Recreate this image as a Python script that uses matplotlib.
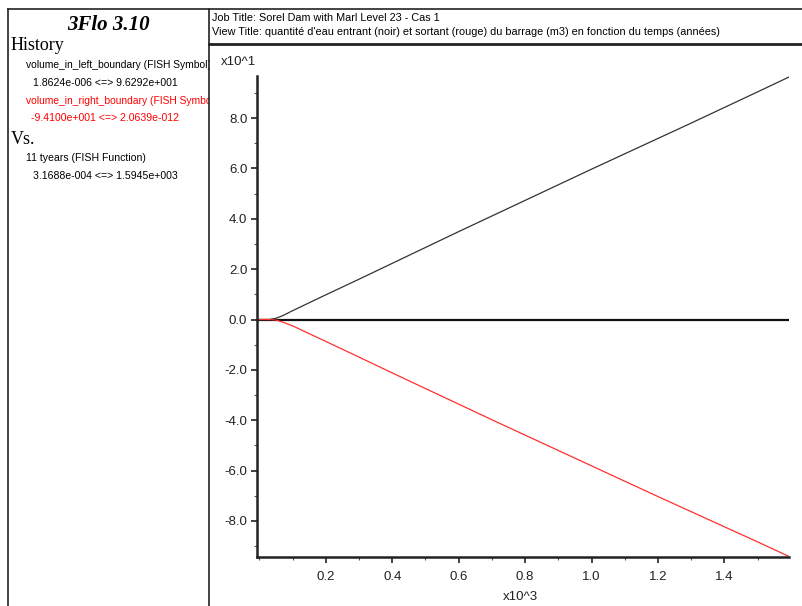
import matplotlib
matplotlib.use('Agg')
from matplotlib import pyplot as plt
from matplotlib.lines import Line2D
from matplotlib.ticker import MultipleLocator, FormatStrFormatter

# time (x10^3 years)
tyears = [0.0003, 0.03, 0.05, 0.07, 0.1, 0.2, 0.3, 0.4, 0.5, 0.6, 0.7, 0.8,
          0.9, 1.0, 1.1, 1.2, 1.3, 1.4, 1.5, 1.5945]
# volume in left boundary (x10^1), black
vol_left = [0.0, 0.0, 0.05, 0.15, 0.35, 0.98, 1.6, 2.23, 2.86, 3.49, 4.11,
            4.73, 5.35, 5.97, 6.58, 7.19, 7.8, 8.42, 9.04, 9.63]
# volume in right boundary (x10^1), red
vol_right = [0.0, 0.0, -0.02, -0.1, -0.25, -0.87, -1.49, -2.12, -2.74, -3.36,
             -3.98, -4.59, -5.2, -5.81, -6.42, -7.03, -7.63, -8.23, -8.83, -9.41]

y_ticks = [-8.0, -6.0, -4.0, -2.0, 0.0, 2.0, 4.0, 6.0, 8.0]
x_ticks = [0.2, 0.4, 0.6, 0.8, 1.0, 1.2, 1.4]

W, H = 803, 606
SANS = ['Liberation Sans', 'DejaVu Sans']
SERIF = ['Liberation Serif', 'DejaVu Serif']


def fx(x):
    return x / W


def fy(y):
    return 1 - y / H


fig = plt.figure(figsize=(W / 100, H / 100), dpi=100)

# frame lines of the history window
frame = [((8, 803), (9, 9), 1.2), ((8, 8), (9, 606), 1.2),
         ((209, 209), (9, 606), 1.2), ((209, 803), (44, 44), 2.0)]
for xs, ys, lw in frame:
    fig.add_artist(Line2D([fx(v) for v in xs], [fy(v) for v in ys],
                          transform=fig.transFigure, color='#222222', lw=lw))

# left info panel (texts clipped at the panel edge)
info = fig.add_axes([fx(8), 0, fx(209) - fx(8), fy(9)])
info.axis('off')
info.set_xlim(8, 209)
info.set_ylim(606, 9)


def put(x, y, s, **kw):
    t = info.text(x, y, s, va='center', ha='left', clip_on=True, **kw)
    t.set_clip_box(info.bbox)
    return t


info.text(108, 25, '3Flo 3.10', ha='center', va='center', family=SERIF,
          fontsize=15, fontweight='bold', fontstyle='italic')
put(11, 46, 'History', family=SERIF, fontsize=13)
put(26, 65, 'volume_in_left_boundary (FISH Symbol)', family=SANS, fontsize=7.4)
put(33, 83, '1.8624e-006 <=> 9.6292e+001', family=SANS, fontsize=7.6)
put(26, 101, 'volume_in_right_boundary (FISH Symbol)', family=SANS,
    fontsize=7.4, color='red')
put(31, 118, '-9.4100e+001 <=> 2.0639e-012', family=SANS, fontsize=7.6,
    color='red')
put(11, 139, 'Vs.', family=SERIF, fontsize=13)
put(26, 158, '11 tyears (FISH Function)', family=SANS, fontsize=7.6)
put(33, 176, '3.1688e-004 <=> 1.5945e+003', family=SANS, fontsize=7.6)

# header titles
fig.text(fx(212), fy(18), 'Job Title: Sorel Dam with Marl Level 23 - Cas 1',
         family=SANS, fontsize=7.8, va='center', ha='left')
fig.text(fx(212), fy(32),
         "View Title: quantité d'eau entrant (noir) et sortant (rouge) du barrage "
         "(m3) en fonction du temps (années)",
         family=SANS, fontsize=7.8, va='center', ha='left')

# main plot
ax = fig.add_axes([fx(257), fy(557), fx(789) - fx(257), fy(76) - fy(557)])
ax.plot(tyears, vol_left, color='#333333', lw=0.9)
ax.plot(tyears, vol_right, color='#ff3030', lw=0.9)
ax.axhline(0, color='#111111', lw=1.6, zorder=1)

ax.set_xlim(-0.007, 1.5945)
ax.set_ylim(-9.43, 9.67)
for s in ['top', 'right']:
    ax.spines[s].set_visible(False)
for s in ['left', 'bottom']:
    ax.spines[s].set_linewidth(1.8)
    ax.spines[s].set_color('#222222')

ax.set_xticks(x_ticks)
ax.set_yticks(y_ticks)
ax.xaxis.set_major_formatter(FormatStrFormatter('%.1f'))
ax.yaxis.set_major_formatter(FormatStrFormatter('%.1f'))
ax.xaxis.set_minor_locator(MultipleLocator(0.1))
ax.yaxis.set_minor_locator(MultipleLocator(1.0))
ax.tick_params(which='major', direction='out', length=4, width=1.2,
               labelsize=9.5, colors='#222222', pad=3)
ax.tick_params(which='minor', direction='out', length=2.5, width=0.8,
               colors='#555555')
ax.tick_params(axis='x', which='major', pad=6)
for lab in ax.get_xticklabels() + ax.get_yticklabels():
    lab.set_family(SANS)

fig.text(fx(238), fy(62), 'x10^1', family=SANS, fontsize=9.5, ha='center',
         va='center', color='#222222')
fig.text(fx(520), fy(597), 'x10^3', family=SANS, fontsize=9.5, ha='center',
         va='center', color='#222222')

fig.savefig('out.png', dpi=100)
